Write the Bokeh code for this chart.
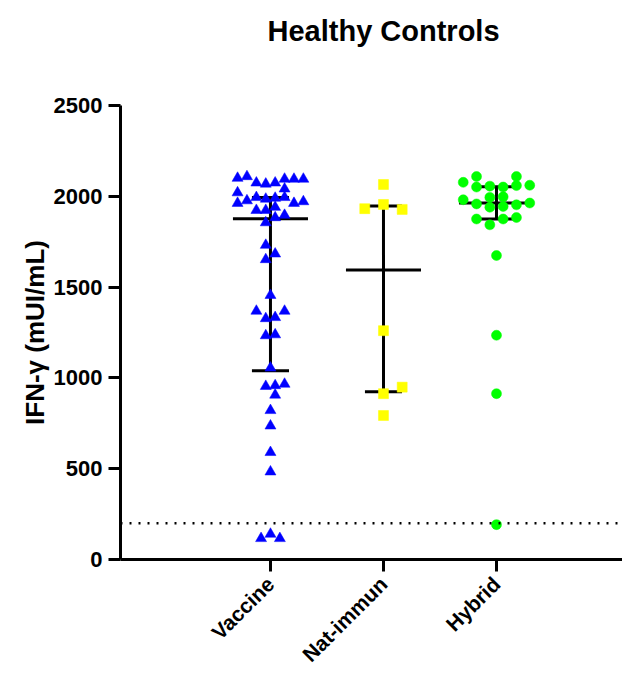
import math
from bokeh.plotting import figure
from bokeh.models import Range1d, FixedTicker, Span, ColumnDataSource, Title
from bokeh.embed import file_html
from bokeh.resources import INLINE

# ---------------- data ----------------
categories = ["Vaccine", "Nat-immun", "Hybrid"]

vaccine_values = [2100, 2109, 2074, 2068, 2074, 2095, 2095, 2095, 2041, 2020,
                  1962, 1976, 1994, 1985, 1990, 1994, 1962, 1971, 1923, 1923,
                  1940, 1883, 1896, 1855, 1731, 1683, 1652, 1455, 1368, 1368,
                  1327, 1333, 1233, 1238, 1055, 954, 958, 966, 906, 821,
                  736, 590, 483, 116, 140, 116]
vaccine_lanes = [-3.5, -2.5, -1.5, -0.5, 0.5, 1.5, 2.5, 3.5, 1.5, -3.5,
                 -3.5, -2.5, -1.5, -0.5, 0.5, 1.5, 2.5, 3.5, -1.5, -0.5,
                 0.5, 0.5, 1.5, -0.5, -0.5, 0.5, -0.5, 0, -1.5, 1.5,
                 -0.5, 0.5, -0.5, 0.5, 0, -0.5, 0.5, 1.5, 0.5, 0,
                 0, 0, 0, -1, 0, 1]

natimmun_values = [2065, 1932, 1955, 1928, 1260, 949, 913, 793]
natimmun_lanes = [0, -2, 0, 2, 0, 2, 0, 0]

hybrid_values = [2109, 2109, 2077, 2051, 2056, 2051, 2059, 2061, 1981, 1994,
                 1997, 1958, 1940, 1944, 1953, 1963, 1875, 1875, 1883, 1843,
                 1674, 1235, 913, 192]
hybrid_lanes = [-1.5, 1.5, -2.5, -1.5, -0.5, 0.5, 1.5, 2.5, -2.5, -0.5,
                0.5, -1.5, -0.5, 0.5, 1.5, 2.5, -1.5, 0.5, 1.5, -0.5,
                0, 0, 0, 0]

# median and interquartile range per group
medians = [1877, 1594, 1963]
q1s = [1040, 924, 1875]
q3s = [1994, 1946, 2052]

cutoff = 200
y_ticks = [0, 500, 1000, 1500, 2000, 2500]

# ---------------- figure ----------------
FONT = "Liberation Sans"

p = figure(width=622, height=677, output_backend="svg", toolbar_location=None,
           x_range=Range1d(-1.327, 3.115), y_range=Range1d(0, 2500),
           min_border_left=120, min_border_right=0, min_border_top=105,
           min_border_bottom=100)
p.outline_line_color = None
p.xgrid.visible = False
p.ygrid.visible = False
p.background_fill_color = "white"
p.border_fill_color = "white"

# title (pushed towards the top with an empty spacer panel)
p.title.text = "Healthy Controls"
p.title.text_font = FONT
p.title.text_font_style = "bold"
p.title.text_font_size = "29px"
p.title.text_color = "black"
p.title.align = "left"
p.title.offset = 147
p.title.vertical_align = "top"
p.title.standoff = 24
p.add_layout(Title(text=" ", text_font_size="39px", standoff=0), "above")

# axes
for ax in (p.xaxis[0], p.yaxis[0]):
    ax.axis_line_width = 3
    ax.axis_line_color = "black"
    ax.major_tick_line_width = 3
    ax.major_tick_line_color = "black"
    ax.major_tick_in = 0
    ax.major_tick_out = 12
    ax.minor_tick_line_color = None
    ax.major_label_text_font = FONT
    ax.major_label_text_font_style = "bold"
    ax.major_label_text_color = "black"

p.yaxis.ticker = FixedTicker(ticks=y_ticks)
p.yaxis.major_label_text_font_size = "22px"
p.yaxis.major_label_standoff = 6
p.yaxis.axis_label = "IFN-γ (mUI/mL)"
p.yaxis.axis_label_text_font = FONT
p.yaxis.axis_label_text_font_style = "bold"
p.yaxis.axis_label_text_font_size = "26px"
p.yaxis.axis_label_text_color = "black"
p.yaxis.axis_label_standoff = 1

p.xaxis.ticker = FixedTicker(ticks=list(range(len(categories))))
p.xaxis.major_label_overrides = {i: c for i, c in enumerate(categories)}
p.xaxis.major_label_orientation = math.pi / 4
p.xaxis.major_label_text_font_size = "21px"
p.xaxis.major_label_standoff = 9

# dotted cutoff line
p.add_layout(Span(location=cutoff, dimension="width", line_color="black",
                  line_width=2.5, line_dash="2 7"))

# error bars: median + IQR
med_half = 0.332
cap_half = 0.164
xs = list(range(len(categories)))
bars = ColumnDataSource(dict(
    x=xs,
    med=medians, q1=q1s, q3=q3s,
    mx0=[x - med_half for x in xs], mx1=[x + med_half for x in xs],
    cx0=[x - cap_half for x in xs], cx1=[x + cap_half for x in xs],
))
p.segment(x0="x", y0="q1", x1="x", y1="q3", source=bars, line_color="black", line_width=3)
p.segment(x0="mx0", y0="med", x1="mx1", y1="med", source=bars, line_color="black", line_width=3)
p.segment(x0="cx0", y0="q1", x1="cx1", y1="q1", source=bars, line_color="black", line_width=3)
p.segment(x0="cx0", y0="q3", x1="cx1", y1="q3", source=bars, line_color="black", line_width=3)

# points
lane_width = [9.4 / 113, 9.35 / 113, 13.3 / 113]
groups = [
    (vaccine_values, vaccine_lanes, "triangle", "#0000FF", 11),
    (natimmun_values, natimmun_lanes, "square", "#FFFF00", 10),
    (hybrid_values, hybrid_lanes, "circle", "#00FF00", 10),
]
for gi, (vals, lanes, marker, color, size) in enumerate(groups):
    src = ColumnDataSource(dict(
        x=[gi + l * lane_width[gi] for l in lanes],
        y=vals,
    ))
    p.scatter(x="x", y="y", source=src, marker=marker, size=size,
              fill_color=color, line_color=color, line_width=0.5)

open("out.html", "w").write(file_html(p, INLINE))
